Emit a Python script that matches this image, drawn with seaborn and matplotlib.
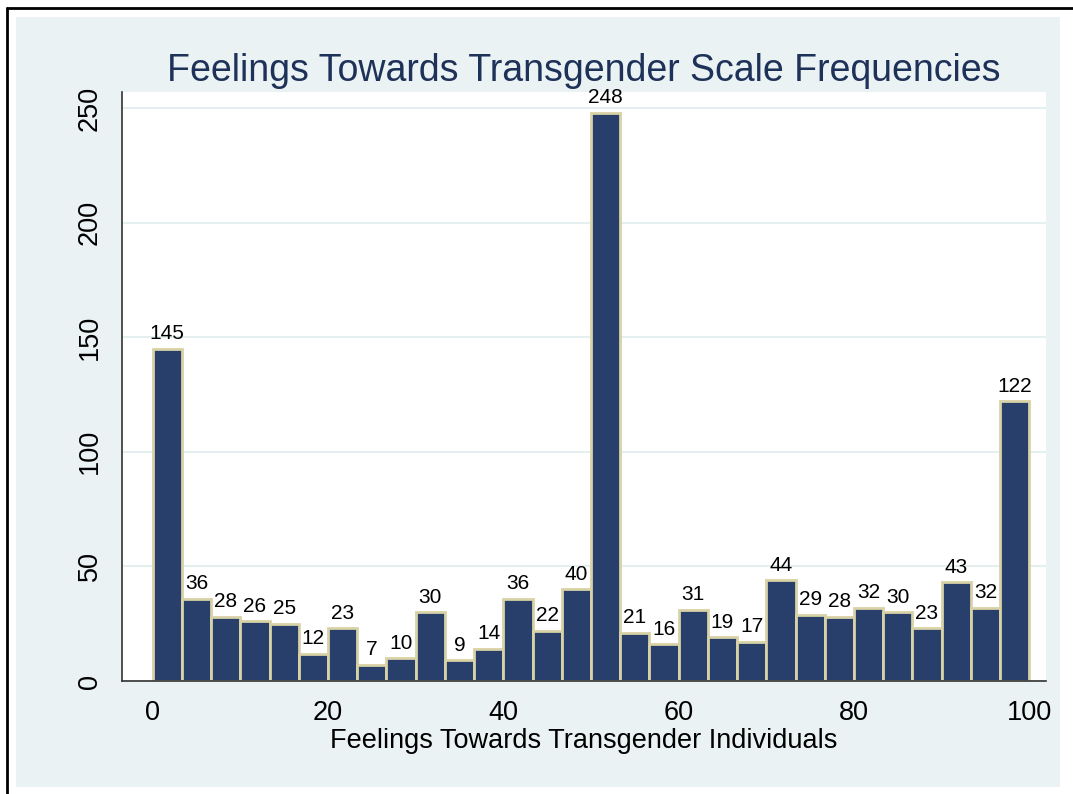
import numpy as np
import pandas as pd
import seaborn as sns
import matplotlib.pyplot as plt
from matplotlib.patches import Rectangle
from matplotlib.lines import Line2D

# histogram counts, 30 bins of width 100/30 from 0 to 100
counts = [145, 36, 28, 26, 25, 12, 23, 7, 10, 30, 9, 14, 36, 22, 40,
          248, 21, 16, 31, 19, 17, 44, 29, 28, 32, 30, 23, 43, 32, 122]
nbins = len(counts)
edges = np.linspace(0, 100, nbins + 1)
centers = (edges[:-1] + edges[1:]) / 2
xticks = [0, 20, 40, 60, 80, 100]
yticks = [0, 50, 100, 150, 200, 250]

df = pd.DataFrame({"feel": centers, "n": counts})

sns.set_style("white")
plt.rcParams['font.family'] = ['Liberation Sans', 'DejaVu Sans']
plt.rcParams['text.color'] = 'black'
plt.rcParams['axes.labelcolor'] = 'black'
plt.rcParams['xtick.labelcolor'] = 'black'
plt.rcParams['ytick.labelcolor'] = 'black'

fig = plt.figure(figsize=(10.73, 7.94), dpi=100)
fig.patch.set_facecolor("white")

# stata-like outer background and frame
fig.patches.append(Rectangle((0.0149, 0.0088), 0.973, 0.9698, transform=fig.transFigure,
                             facecolor="#EAF2F3", edgecolor="none", zorder=-2))
fig.lines.append(Line2D([0.0065, 0.0065], [0, 0.990], transform=fig.transFigure,
                        color="black", lw=2, zorder=-1))
fig.lines.append(Line2D([0.0065, 1.0], [0.990, 0.990], transform=fig.transFigure,
                        color="black", lw=2, zorder=-1))

ax = fig.add_axes([0.1137, 0.1423, 0.8611, 0.7418])
ax.set_zorder(2)
ax.set_facecolor("white")

sns.histplot(data=df, x="feel", weights="n", bins=nbins, binrange=(0, 100), ax=ax,
             color="#283E6B", edgecolor="#D8D2A6", linewidth=2, alpha=1)

for c in ax.containers:
    ax.bar_label(c, labels=[str(v) for v in counts], padding=4, fontsize=15, color="black")

ax.set_xlim(-3.5, 101.9)
ax.set_ylim(0, 257)
ax.set_xticks(xticks)
ax.set_yticks(yticks)
ax.set_yticklabels([str(t) for t in yticks], rotation=90, va="center")
ax.tick_params(axis="both", labelsize=19.5, direction="out", length=8, width=1.2, color="#333333")
ax.tick_params(axis="x", pad=6)
ax.tick_params(axis="y", pad=6)
ax.yaxis.grid(True, color="#E6EFF0", lw=1.5)
ax.set_axisbelow(True)
for s in ["top", "right"]:
    ax.spines[s].set_visible(False)
for s in ["left", "bottom"]:
    ax.spines[s].set_color("#333333")
    ax.spines[s].set_linewidth(1.2)

ax.set_xlabel("Feelings Towards Transgender Individuals", fontsize=19.5, labelpad=1)
ax.set_ylabel("")
ax.set_title("Feelings Towards Transgender Scale Frequencies", fontsize=27,
             color="#1E3159", pad=8)

fig.savefig("out.png", dpi=100)
